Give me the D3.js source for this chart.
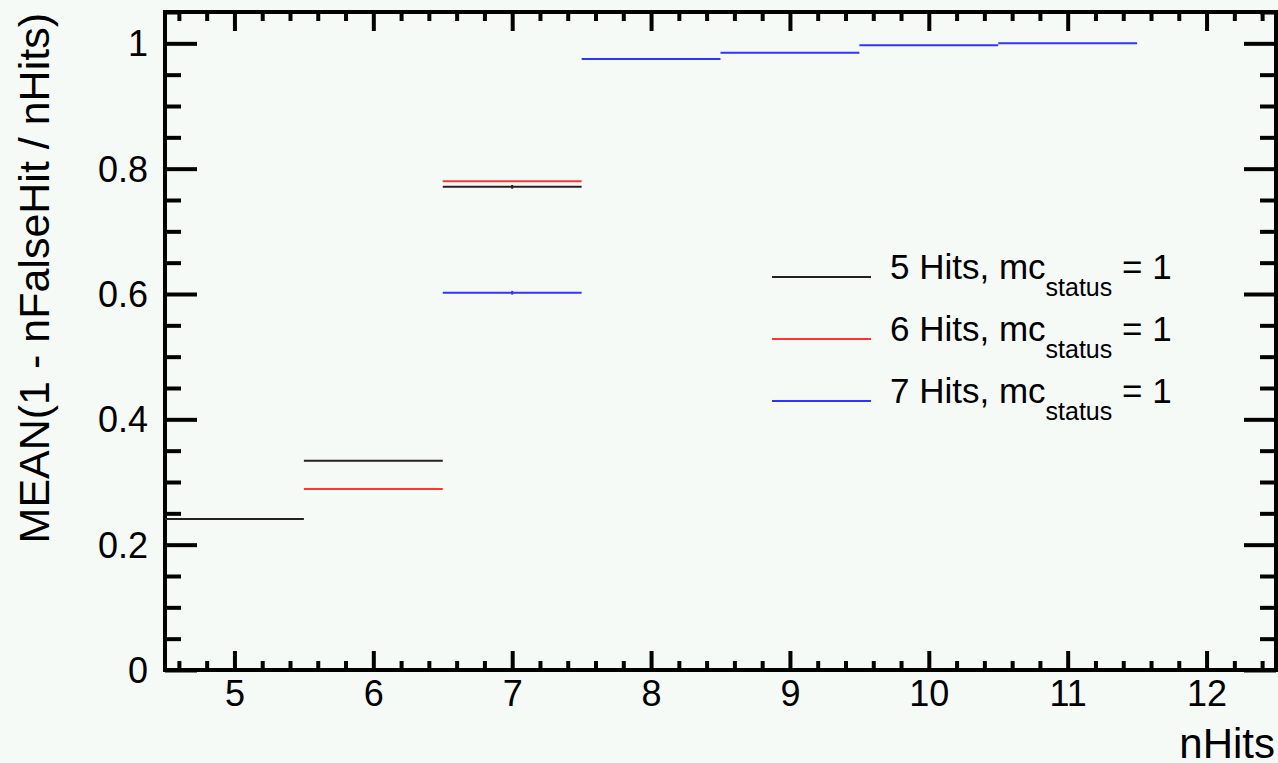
<!DOCTYPE html>
<html>
<head>
<meta charset="utf-8">
<script src="https://cdn.jsdelivr.net/npm/d3@7"></script>
<style>
  body { margin: 0; background: #f6faf7; }
  text { font-family: "Liberation Sans", Arial, Helvetica, sans-serif; fill: #000; }
</style>
</head>
<body>
<div id="chart"></div>
<script>
const width = 1278;
const height = 763;
const frame = { left: 165, right: 1276, top: 12, bottom: 670 };

// bin centres (nHits) per series, and mean values
const series = ["5 Hits", "6 Hits", "7 Hits"];
const colors = ["#222222", "#ff3333", "#3333ff"];

const bins5 = [5, 6, 7];
const values5 = [0.241, 0.334, 0.771];
const errors5 = [0, 0, 0.003];

const bins6 = [6, 7];
const values6 = [0.289, 0.780];
const errors6 = [0, 0];

const bins7 = [7, 8, 9, 10, 11];
const values7 = [0.602, 0.975, 0.985, 0.997, 1.0];
const errors7 = [0.003, 0, 0, 0, 0];

const xTicks = [5, 6, 7, 8, 9, 10, 11, 12];
const yTicks = [0, 0.2, 0.4, 0.6, 0.8, 1];

const data = [
  { name: series[0], color: colors[0], bins: bins5, values: values5, errors: errors5 },
  { name: series[1], color: colors[1], bins: bins6, values: values6, errors: errors6 },
  { name: series[2], color: colors[2], bins: bins7, values: values7, errors: errors7 },
];

const svg = d3
  .select("#chart")
  .append("svg")
  .attr("width", width)
  .attr("height", height);

svg.append("rect").attr("width", width).attr("height", height).attr("fill", "#f6faf7");

const xScale = d3.scaleLinear().domain([4.5, 12.5]).range([frame.left, frame.right]);
const yScale = d3.scaleLinear().domain([0, 1.05]).range([frame.bottom, frame.top]);

const xMinor = d3.range(46, 125, 2).map((d) => d / 10).filter((d) => !xTicks.includes(d));
const yMinor = d3.range(0, 106, 5).map((d) => d / 100).filter((d) => !yTicks.includes(d));

const styleTicks = (g) => {
  g.select(".domain").remove();
  g.selectAll(".tick line").attr("stroke", "#000").attr("stroke-width", 4);
};

// bottom axis
svg
  .append("g")
  .attr("transform", `translate(0, ${frame.bottom})`)
  .call(d3.axisBottom(xScale).tickValues(xTicks).tickSize(-19).tickFormat(d3.format("d")))
  .call(styleTicks)
  .call((g) =>
    g.selectAll(".tick text")
      .attr("y", 10)
      .attr("dy", "0.71em")
      .attr("font-size", 36)
  );
svg
  .append("g")
  .attr("transform", `translate(0, ${frame.bottom})`)
  .call(d3.axisBottom(xScale).tickValues(xMinor).tickSize(-9).tickFormat(""))
  .call(styleTicks);

// top axis (ticks only)
svg
  .append("g")
  .attr("transform", `translate(0, ${frame.top})`)
  .call(d3.axisTop(xScale).tickValues(xTicks).tickSize(-19).tickFormat(""))
  .call(styleTicks);
svg
  .append("g")
  .attr("transform", `translate(0, ${frame.top})`)
  .call(d3.axisTop(xScale).tickValues(xMinor).tickSize(-9).tickFormat(""))
  .call(styleTicks);

// left axis
svg
  .append("g")
  .attr("transform", `translate(${frame.left}, 0)`)
  .call(d3.axisLeft(yScale).tickValues(yTicks).tickSize(-32).tickFormat((d) => d3.format("")(d)))
  .call(styleTicks)
  .call((g) =>
    g.selectAll(".tick text")
      .attr("x", -17)
      .attr("dy", "0.35em")
      .attr("font-size", 36)
  );
svg
  .append("g")
  .attr("transform", `translate(${frame.left}, 0)`)
  .call(d3.axisLeft(yScale).tickValues(yMinor).tickSize(-16).tickFormat(""))
  .call(styleTicks);

// right axis (ticks only)
svg
  .append("g")
  .attr("transform", `translate(${frame.right}, 0)`)
  .call(d3.axisRight(yScale).tickValues(yTicks).tickSize(-32).tickFormat(""))
  .call(styleTicks);
svg
  .append("g")
  .attr("transform", `translate(${frame.right}, 0)`)
  .call(d3.axisRight(yScale).tickValues(yMinor).tickSize(-16).tickFormat(""))
  .call(styleTicks);

// frame
svg
  .append("rect")
  .attr("x", frame.left)
  .attr("y", frame.top)
  .attr("width", frame.right - frame.left)
  .attr("height", frame.bottom - frame.top)
  .attr("fill", "none")
  .attr("stroke", "#000")
  .attr("stroke-width", 4);

// histogram bins as horizontal segments
const binGroup = svg.append("g");
data.forEach((s) => {
  const g = binGroup.append("g").attr("stroke", s.color).attr("stroke-width", 2);
  const points = s.bins.map((b, i) => ({ x: b, y: s.values[i], e: s.errors[i] }));
  g.selectAll(".seg")
    .data(points)
    .join("line")
    .attr("class", "seg")
    .attr("x1", (d) => xScale(d.x - 0.5))
    .attr("x2", (d) => xScale(d.x + 0.5))
    .attr("y1", (d) => yScale(d.y))
    .attr("y2", (d) => yScale(d.y));
  g.selectAll(".err")
    .data(points.filter((d) => d.e > 0))
    .join("line")
    .attr("class", "err")
    .attr("x1", (d) => xScale(d.x))
    .attr("x2", (d) => xScale(d.x))
    .attr("y1", (d) => yScale(d.y - d.e))
    .attr("y2", (d) => yScale(d.y + d.e));
});

// axis titles
svg
  .append("text")
  .attr("x", 1275)
  .attr("y", 758)
  .attr("text-anchor", "end")
  .attr("font-size", 42)
  .text("nHits");

svg
  .append("text")
  .attr("transform", "translate(49, 13) rotate(-90)")
  .attr("text-anchor", "end")
  .attr("font-size", 43)
  .text("MEAN(1 - nFalseHit / nHits)");

// legend
const legendScale = d3.scaleBand().domain(series).range([246, 432]);
const legend = svg
  .append("g")
  .selectAll("g")
  .data(data)
  .join("g")
  .attr("transform", (d) => `translate(0, ${legendScale(d.name) + legendScale.bandwidth() / 2})`);

legend
  .append("line")
  .attr("x1", 772)
  .attr("x2", 871)
  .attr("y1", 0)
  .attr("y2", 0)
  .attr("stroke", (d) => d.color)
  .attr("stroke-width", 2);

const label = legend.append("text").attr("x", 890).attr("y", 2).attr("font-size", 35);
label.append("tspan").text((d) => d.name + ", mc");
label.append("tspan").attr("dy", 17).attr("font-size", 25).text("status");
label.append("tspan").attr("dy", -17).text(" = 1");
</script>
</body>
</html>
